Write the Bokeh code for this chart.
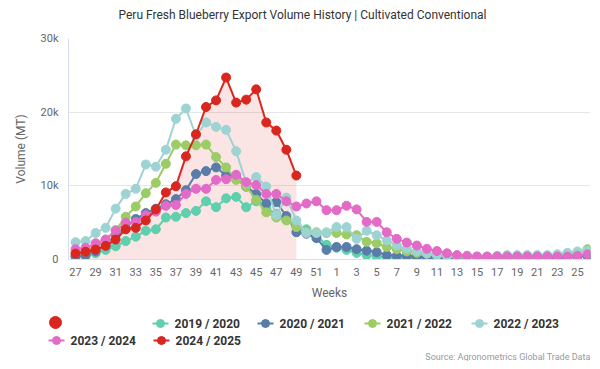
from bokeh.plotting import figure
from bokeh.models import Range1d, FixedTicker, ColumnDataSource
from bokeh.layouts import column
from bokeh.embed import file_html
from bokeh.resources import INLINE
from bokeh.core.properties import value

# ---------------- data ----------------
weeks = list(range(27, 53)) + list(range(1, 27))
series_names = ["2019 / 2020", "2020 / 2021", "2021 / 2022", "2022 / 2023", "2023 / 2024", "2024 / 2025"]
series_colors = ["#5fcfae", "#5a7ca8", "#9ccc65", "#9dd3d2", "#e36ac7", "#d9261f"]

v_2019_2020 = [400, 450, 850, 1300, 1800, 2500, 3100, 3900, 4100, 5700, 5800, 6300, 6600, 7900, 7100, 8300,
               8500, 7100, 7900, 7000, 6200, 5400, 4600, 4100, 3200, 2000, 1600, 1300, 900, 600, 400, 300,
               200, 150, 100, 200, 100, 150, 200, 200, 200, 200, 200, 200, 200, 200, 200, 200, 200, 300, 400, 500]
v_2020_2021 = [400, 600, 1100, 2000, 3300, 4300, 5500, 6300, 6900, 7500, 8200, 9400, 11600, 12000, 12500, 11400,
               11200, 9900, 8900, 7600, 7800, 5900, 3700, 3500, 2900, 1300, 1700, 1700, 1400, 1200, 1000, 600,
               500, 500, 400, 300, 300, 200, 200, 200, 200, 200, 200, 200, 200, 200, 200, 200, 200, 300, 400, 500]
v_2021_2022 = [900, 1100, 1600, 2700, 4000, 5800, 7200, 9000, 10400, 13000, 15600, 15500, 15500, 15600, 13900, 12500,
               10800, 9900, 8100, 6400, 5700, 5300, 4400, 3800, 3700, 3600, 3600, 3400, 3300, 2400, 2200, 1700,
               1400, 1100, 900, 800, 600, 500, 400, 300, 300, 300, 300, 300, 300, 300, 300, 300, 500, 600, 900, 1400]
v_2022_2023 = [2350, 2500, 3600, 4300, 6900, 8900, 9600, 12900, 12600, 14900, 19100, 20500, 16800, 18600, 18000, 17600,
               14700, 10400, 11200, 9900, 6000, 8400, 5300, 3600, 3600, 3700, 4400, 4400, 2800, 3900, 3300, 2600,
               1900, 1500, 1100, 800, 600, 500, 500, 400, 400, 400, 500, 600, 600, 600, 600, 600, 700, 900, 1100, 1200]
v_2023_2024 = [1400, 1600, 2200, 2700, 3900, 5000, 5100, 6000, 6500, 7300, 7400, 8900, 9600, 9600, 10800, 10900,
               11500, 10500, 10100, 8900, 8900, 7900, 7200, 7600, 7900, 6700, 6700, 7300, 6800, 5100, 5100, 3700,
               2800, 2300, 1900, 1450, 1150, 850, 600, 500, 400, 400, 400, 400, 400, 400, 400, 400, 400, 400, 500, 700]
v_2024_2025 = [800, 1050, 1350, 1850, 2700, 4100, 4300, 5300, 6800, 9100, 9950, 14000, 17000, 20700, 21600, 24700,
               21300, 21700, 23100, 18600, 17500, 14900, 11400]

series_values = [v_2019_2020, v_2020_2021, v_2021_2022, v_2022_2023, v_2023_2024, v_2024_2025]

y_ticks = [0, 10000, 20000, 30000]
y_tick_labels = ["0", "10k", "20k", "30k"]

title_text = "Peru Fresh Blueberry Export Volume History | Cultivated Conventional"
y_label = "Volume (MT)"
x_label = "Weeks"
source_text = "Source: Agronometrics Global Trade Data"

FONT = "Roboto"
W = 592


def strip(height):
    f = figure(width=W, height=height, output_backend="svg", toolbar_location=None,
               x_range=Range1d(0, W), y_range=Range1d(height, 0),
               x_axis_location=None, y_axis_location=None,
               min_border=0, min_border_left=0, min_border_right=0,
               min_border_top=0, min_border_bottom=0)
    f.frame_align = False
    f.grid.visible = False
    f.outline_line_color = None
    return f


# ---------------- title strip ----------------
H0 = 28
tt = strip(H0)
tt.text(x=[302], y=[14], text=[title_text], text_font=value(FONT), text_font_size="12px",
        text_color="#333333", text_baseline="middle", text_align="center")

# ---------------- chart ----------------
p = figure(width=W, height=308 - H0, output_backend="svg", toolbar_location=None,
           x_range=Range1d(-0.7, 51.3), y_range=Range1d(0, 30000),
           min_border_left=68, min_border_right=2, min_border_top=38 - H0, min_border_bottom=49)
p.frame_align = False
p.outline_line_color = None
p.background_fill_color = "white"
p.border_fill_color = "white"

# area under latest season
idx_red = list(range(len(v_2024_2025)))
p.varea(x=idx_red, y1=[0] * len(idx_red), y2=v_2024_2025, fill_color="#d9261f", fill_alpha=0.12)

for name, col, vals in zip(series_names, series_colors, series_values):
    src = ColumnDataSource(dict(x=list(range(len(vals))), y=vals))
    p.line("x", "y", source=src, line_color=col, line_width=2)
    p.scatter("x", "y", source=src, size=9, fill_color=col, line_color=col)

# axes
xa = p.xaxis[0]
xa.ticker = FixedTicker(ticks=list(range(0, 52, 2)))
xa.major_label_overrides = {i: str(weeks[i]) for i in range(0, 52, 2)}
ya = p.yaxis[0]
ya.ticker = FixedTicker(ticks=y_ticks)
ya.major_label_overrides = {t: l for t, l in zip(y_ticks, y_tick_labels)}
for ax in (xa, ya):
    ax.axis_line_color = "#d8def0"
    ax.axis_line_width = 1
    ax.major_tick_line_color = None
    ax.minor_tick_line_color = None
    ax.major_tick_out = 0
    ax.major_tick_in = 0
    ax.minor_tick_out = 0
    ax.major_label_text_font = FONT
    ax.major_label_text_font_size = "11px"
    ax.major_label_text_color = "#666666"
    ax.axis_label_text_font = FONT
    ax.axis_label_text_font_size = "12px"
    ax.axis_label_text_font_style = "normal"
    ax.axis_label_text_color = "#666666"
xa.axis_label = x_label
ya.axis_label = y_label
xa.major_label_standoff = 8
xa.axis_label_standoff = 7
ya.major_label_standoff = 10
ya.axis_label_standoff = 10

p.xgrid.grid_line_color = None
p.ygrid.grid_line_color = "#e6e6e6"
p.ygrid.ticker = FixedTicker(ticks=y_ticks)

# ---------------- legend strip ----------------
H2 = 53
lg = strip(H2)

# big red dot (first legend item, no label)
lg.scatter([55], [14], size=12, fill_color="#d9261f", line_color="#d9261f")

marker_x = [160, 265, 372, 479, 56, 161]
marker_y = [15, 15, 15, 15, 32, 32]
for name, col, mx, my in zip(series_names, series_colors, marker_x, marker_y):
    lg.line([mx - 8, mx + 8], [my, my], line_color=col, line_width=2)
    lg.scatter([mx], [my], size=8, fill_color=col, line_color=col)
    lg.text(x=[mx + 14], y=[my], text=[name], text_font=value(FONT), text_font_size="12px",
            text_font_style="bold", text_color="#333333", text_baseline="middle", text_align="left")

lg.text(x=[590], y=[48], text=[source_text], text_font=value(FONT), text_font_size="9px",
        text_color="#999999", text_baseline="middle", text_align="right")

layout = column(tt, p, lg, spacing=0)
open("out.html", "w").write(file_html(layout, INLINE))
